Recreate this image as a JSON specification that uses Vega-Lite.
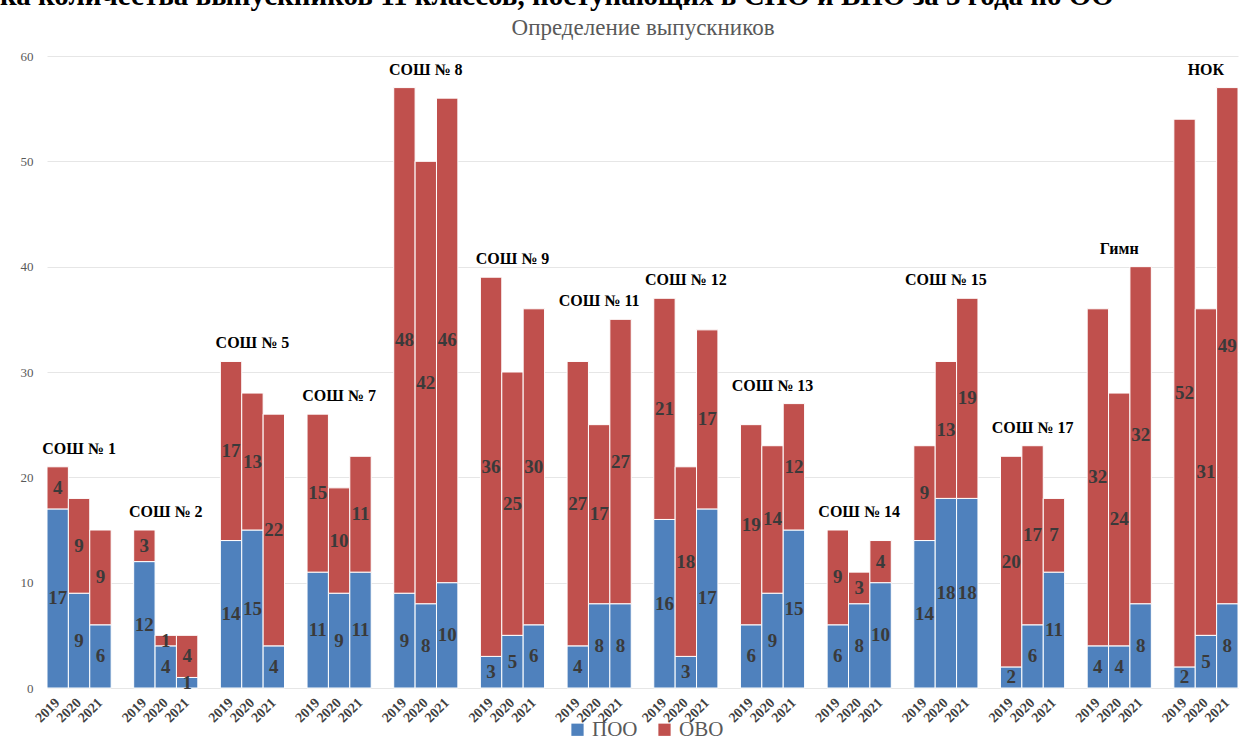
{
  "$schema": "https://vega.github.io/schema/vega-lite/v6.json",
  "width": 1191,
  "height": 632,
  "autosize": {"type": "none"},
  "padding": {"left": 47, "top": 56, "right": 2, "bottom": 55},
  "background": "white",
  "title": {
    "text": "ка количества выпускников 11 классов, поступающих в СПО и ВПО за 3 года по ОО",
    "anchor": "start",
    "frame": "group",
    "dx": -47,
    "offset": 5,
    "font": "Liberation Serif",
    "fontSize": 29,
    "fontWeight": "bold",
    "color": "#000000"
  },
  "config": {
    "view": {"stroke": null},
    "axisY": {
      "domain": false,
      "ticks": false,
      "labelPadding": 14,
      "grid": true,
      "gridColor": "#e6e6e6",
      "labelFont": "Liberation Serif",
      "labelFontSize": 13,
      "labelColor": "#595959"
    }
  },
  "data": {
    "values": [
      {"school": "СОШ № 1", "year": "2019", "type": "ПОО", "value": 17},
      {"school": "СОШ № 1", "year": "2019", "type": "ОВО", "value": 4},
      {"school": "СОШ № 1", "year": "2020", "type": "ПОО", "value": 9},
      {"school": "СОШ № 1", "year": "2020", "type": "ОВО", "value": 9},
      {"school": "СОШ № 1", "year": "2021", "type": "ПОО", "value": 6},
      {"school": "СОШ № 1", "year": "2021", "type": "ОВО", "value": 9},
      {"school": "СОШ № 2", "year": "2019", "type": "ПОО", "value": 12},
      {"school": "СОШ № 2", "year": "2019", "type": "ОВО", "value": 3},
      {"school": "СОШ № 2", "year": "2020", "type": "ПОО", "value": 4},
      {"school": "СОШ № 2", "year": "2020", "type": "ОВО", "value": 1},
      {"school": "СОШ № 2", "year": "2021", "type": "ПОО", "value": 1},
      {"school": "СОШ № 2", "year": "2021", "type": "ОВО", "value": 4},
      {"school": "СОШ № 5", "year": "2019", "type": "ПОО", "value": 14},
      {"school": "СОШ № 5", "year": "2019", "type": "ОВО", "value": 17},
      {"school": "СОШ № 5", "year": "2020", "type": "ПОО", "value": 15},
      {"school": "СОШ № 5", "year": "2020", "type": "ОВО", "value": 13},
      {"school": "СОШ № 5", "year": "2021", "type": "ПОО", "value": 4},
      {"school": "СОШ № 5", "year": "2021", "type": "ОВО", "value": 22},
      {"school": "СОШ № 7", "year": "2019", "type": "ПОО", "value": 11},
      {"school": "СОШ № 7", "year": "2019", "type": "ОВО", "value": 15},
      {"school": "СОШ № 7", "year": "2020", "type": "ПОО", "value": 9},
      {"school": "СОШ № 7", "year": "2020", "type": "ОВО", "value": 10},
      {"school": "СОШ № 7", "year": "2021", "type": "ПОО", "value": 11},
      {"school": "СОШ № 7", "year": "2021", "type": "ОВО", "value": 11},
      {"school": "СОШ № 8", "year": "2019", "type": "ПОО", "value": 9},
      {"school": "СОШ № 8", "year": "2019", "type": "ОВО", "value": 48},
      {"school": "СОШ № 8", "year": "2020", "type": "ПОО", "value": 8},
      {"school": "СОШ № 8", "year": "2020", "type": "ОВО", "value": 42},
      {"school": "СОШ № 8", "year": "2021", "type": "ПОО", "value": 10},
      {"school": "СОШ № 8", "year": "2021", "type": "ОВО", "value": 46},
      {"school": "СОШ № 9", "year": "2019", "type": "ПОО", "value": 3},
      {"school": "СОШ № 9", "year": "2019", "type": "ОВО", "value": 36},
      {"school": "СОШ № 9", "year": "2020", "type": "ПОО", "value": 5},
      {"school": "СОШ № 9", "year": "2020", "type": "ОВО", "value": 25},
      {"school": "СОШ № 9", "year": "2021", "type": "ПОО", "value": 6},
      {"school": "СОШ № 9", "year": "2021", "type": "ОВО", "value": 30},
      {"school": "СОШ № 11", "year": "2019", "type": "ПОО", "value": 4},
      {"school": "СОШ № 11", "year": "2019", "type": "ОВО", "value": 27},
      {"school": "СОШ № 11", "year": "2020", "type": "ПОО", "value": 8},
      {"school": "СОШ № 11", "year": "2020", "type": "ОВО", "value": 17},
      {"school": "СОШ № 11", "year": "2021", "type": "ПОО", "value": 8},
      {"school": "СОШ № 11", "year": "2021", "type": "ОВО", "value": 27},
      {"school": "СОШ № 12", "year": "2019", "type": "ПОО", "value": 16},
      {"school": "СОШ № 12", "year": "2019", "type": "ОВО", "value": 21},
      {"school": "СОШ № 12", "year": "2020", "type": "ПОО", "value": 3},
      {"school": "СОШ № 12", "year": "2020", "type": "ОВО", "value": 18},
      {"school": "СОШ № 12", "year": "2021", "type": "ПОО", "value": 17},
      {"school": "СОШ № 12", "year": "2021", "type": "ОВО", "value": 17},
      {"school": "СОШ № 13", "year": "2019", "type": "ПОО", "value": 6},
      {"school": "СОШ № 13", "year": "2019", "type": "ОВО", "value": 19},
      {"school": "СОШ № 13", "year": "2020", "type": "ПОО", "value": 9},
      {"school": "СОШ № 13", "year": "2020", "type": "ОВО", "value": 14},
      {"school": "СОШ № 13", "year": "2021", "type": "ПОО", "value": 15},
      {"school": "СОШ № 13", "year": "2021", "type": "ОВО", "value": 12},
      {"school": "СОШ № 14", "year": "2019", "type": "ПОО", "value": 6},
      {"school": "СОШ № 14", "year": "2019", "type": "ОВО", "value": 9},
      {"school": "СОШ № 14", "year": "2020", "type": "ПОО", "value": 8},
      {"school": "СОШ № 14", "year": "2020", "type": "ОВО", "value": 3},
      {"school": "СОШ № 14", "year": "2021", "type": "ПОО", "value": 10},
      {"school": "СОШ № 14", "year": "2021", "type": "ОВО", "value": 4},
      {"school": "СОШ № 15", "year": "2019", "type": "ПОО", "value": 14},
      {"school": "СОШ № 15", "year": "2019", "type": "ОВО", "value": 9},
      {"school": "СОШ № 15", "year": "2020", "type": "ПОО", "value": 18},
      {"school": "СОШ № 15", "year": "2020", "type": "ОВО", "value": 13},
      {"school": "СОШ № 15", "year": "2021", "type": "ПОО", "value": 18},
      {"school": "СОШ № 15", "year": "2021", "type": "ОВО", "value": 19},
      {"school": "СОШ № 17", "year": "2019", "type": "ПОО", "value": 2},
      {"school": "СОШ № 17", "year": "2019", "type": "ОВО", "value": 20},
      {"school": "СОШ № 17", "year": "2020", "type": "ПОО", "value": 6},
      {"school": "СОШ № 17", "year": "2020", "type": "ОВО", "value": 17},
      {"school": "СОШ № 17", "year": "2021", "type": "ПОО", "value": 11},
      {"school": "СОШ № 17", "year": "2021", "type": "ОВО", "value": 7},
      {"school": "Гимн", "year": "2019", "type": "ПОО", "value": 4},
      {"school": "Гимн", "year": "2019", "type": "ОВО", "value": 32},
      {"school": "Гимн", "year": "2020", "type": "ПОО", "value": 4},
      {"school": "Гимн", "year": "2020", "type": "ОВО", "value": 24},
      {"school": "Гимн", "year": "2021", "type": "ПОО", "value": 8},
      {"school": "Гимн", "year": "2021", "type": "ОВО", "value": 32},
      {"school": "НОК", "year": "2019", "type": "ПОО", "value": 2},
      {"school": "НОК", "year": "2019", "type": "ОВО", "value": 52},
      {"school": "НОК", "year": "2020", "type": "ПОО", "value": 5},
      {"school": "НОК", "year": "2020", "type": "ОВО", "value": 31},
      {"school": "НОК", "year": "2021", "type": "ПОО", "value": 8},
      {"school": "НОК", "year": "2021", "type": "ОВО", "value": 49}
    ]
  },
  "encoding": {
    "x": {
      "field": "school",
      "type": "nominal",
      "sort": ["СОШ № 1", "СОШ № 2", "СОШ № 5", "СОШ № 7", "СОШ № 8", "СОШ № 9", "СОШ № 11", "СОШ № 12", "СОШ № 13", "СОШ № 14", "СОШ № 15", "СОШ № 17", "Гимн", "НОК"],
      "scale": {"paddingInner": 0.26, "paddingOuter": 0},
      "axis": {
        "orient": "top",
        "title": "Определение выпускников",
        "labels": false,
        "ticks": false,
        "domain": false,
        "grid": false,
        "titleFont": "Liberation Serif",
        "titleFontSize": 23,
        "titleFontWeight": "normal",
        "titleColor": "#595959",
        "titlePadding": 17
      }
    }
  },
  "layer": [
    {
      "transform": [
        {"stack": "value", "groupby": ["school", "year"], "sort": [{"field": "type", "order": "descending"}], "as": ["y0", "y1"]}
      ],
      "mark": {"type": "bar", "stroke": "white", "strokeWidth": 1},
      "encoding": {
        "xOffset": {"field": "year", "type": "ordinal", "scale": {"paddingInner": 0, "paddingOuter": 0}},
        "y": {
          "field": "y1",
          "type": "quantitative",
          "scale": {"domain": [0, 60], "nice": false, "zero": true},
          "axis": {"title": null, "values": [0, 10, 20, 30, 40, 50, 60]}
        },
        "y2": {"field": "y0"},
        "color": {
          "field": "type",
          "type": "nominal",
          "scale": {"domain": ["ПОО", "ОВО"], "range": ["#4f81bd", "#c0504d"]},
          "legend": {
            "orient": "none",
            "legendX": 520,
            "legendY": 663,
            "direction": "horizontal",
            "title": null,
            "symbolType": "square",
            "symbolSize": 150,
            "symbolStrokeWidth": 0,
            "labelFont": "Liberation Serif",
            "labelFontSize": 21,
            "labelColor": "#595959",
            "labelOffset": 4,
            "columnPadding": 16
          }
        }
      }
    },
    {
      "transform": [
        {"stack": "value", "groupby": ["school", "year"], "sort": [{"field": "type", "order": "descending"}], "as": ["y0", "y1"]},
        {"calculate": "(datum.y0 + datum.y1) / 2", "as": "mid"}
      ],
      "mark": {"type": "text", "font": "Liberation Serif", "fontSize": 19, "fontWeight": "bold", "color": "#3a3a3a", "baseline": "middle", "align": "center"},
      "encoding": {
        "xOffset": {"field": "year", "type": "ordinal", "scale": {"paddingInner": 0, "paddingOuter": 0}},
        "y": {"field": "mid", "type": "quantitative", "axis": {"title": null, "values": [0, 10, 20, 30, 40, 50, 60]}},
        "text": {"field": "value", "type": "quantitative"}
      }
    },
    {
      "transform": [
        {"aggregate": [{"op": "sum", "field": "value", "as": "total"}], "groupby": ["school", "year"]},
        {"aggregate": [{"op": "max", "field": "total", "as": "mx"}], "groupby": ["school"]}
      ],
      "mark": {"type": "text", "font": "Liberation Serif", "fontSize": 16, "fontWeight": "bold", "color": "#000000", "baseline": "alphabetic", "align": "center", "dy": -13},
      "encoding": {
        "y": {"field": "mx", "type": "quantitative", "axis": {"title": null, "values": [0, 10, 20, 30, 40, 50, 60]}},
        "text": {"field": "school", "type": "nominal"}
      }
    },
    {
      "transform": [{"filter": "datum.type === 'ПОО'"}],
      "mark": {"type": "text", "font": "Liberation Serif", "fontSize": 14, "fontWeight": "bold", "color": "#404040", "angle": 315, "align": "right", "baseline": "middle", "dx": -9, "dy": 9},
      "encoding": {
        "xOffset": {"field": "year", "type": "ordinal", "scale": {"paddingInner": 0, "paddingOuter": 0}},
        "y": {"datum": 0, "type": "quantitative", "axis": {"title": null, "values": [0, 10, 20, 30, 40, 50, 60]}},
        "text": {"field": "year", "type": "nominal"}
      }
    }
  ]
}
